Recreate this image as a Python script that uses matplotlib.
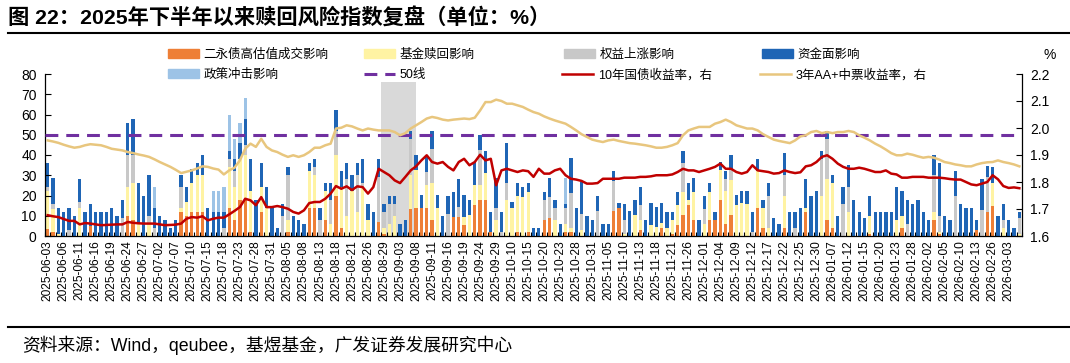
import numpy as np
import matplotlib
matplotlib.use("Agg")
import matplotlib.pyplot as plt
from matplotlib.patches import Patch
from matplotlib.lines import Line2D

plt.rcParams['font.family'] = ['Liberation Sans', 'Noto Sans CJK SC']
plt.rcParams['axes.unicode_minus'] = False

tick_labels = [
    "2025-06-03", "2025-06-06", "2025-06-11", "2025-06-16", "2025-06-19", "2025-06-24", "2025-06-27",
    "2025-07-02", "2025-07-07", "2025-07-10", "2025-07-15", "2025-07-18", "2025-07-23", "2025-07-28",
    "2025-07-31", "2025-08-05", "2025-08-08", "2025-08-13", "2025-08-18", "2025-08-21", "2025-08-26",
    "2025-08-29", "2025-09-03", "2025-09-08", "2025-09-11", "2025-09-16", "2025-09-19", "2025-09-24",
    "2025-09-29", "2025-10-10", "2025-10-15", "2025-10-20", "2025-10-23", "2025-10-28", "2025-10-31",
    "2025-11-05", "2025-11-10", "2025-11-13", "2025-11-18", "2025-11-21", "2025-11-26", "2025-12-01",
    "2025-12-04", "2025-12-09", "2025-12-12", "2025-12-17", "2025-12-22", "2025-12-25", "2025-12-30",
    "2026-01-07", "2026-01-12", "2026-01-15", "2026-01-20", "2026-01-23", "2026-01-28", "2026-02-02",
    "2026-02-05", "2026-02-10", "2026-02-13", "2026-02-26", "2026-03-03",
]

# 二永债高估值成交影响
orange = [3.5, 2, 0, 0, 0, 0, 0, 0, 5, 0, 0, 0, 0, 0, 0, 10, 8, 0, 0, 0,
          0, 0, 0, 0, 0, 12, 10, 12, 12, 12, 0, 0, 0, 0, 14, 8, 18, 18, 2, 0,
          12, 0, 0, 0, 0, 2, 0, 0, 0, 14, 14, 0, 8, 0, 20, 4, 0, 0, 0, 0,
          0, 0, 7, 1, 0, 0, 0, 0, 13.5, 13.8, 13.7, 13.7, 8, 0, 0, 0, 9.6, 9.6, 5.4, 0,
          15.3, 17.8, 17.8, 2, 0, 0, 0, 0, 2, 0, 2, 0, 0, 7.9, 8.7, 0, 0, 2, 2, 0,
          0, 0, 0, 0, 0, 0, 12.5, 13.7, 0, 0, 0, 3, 0, 0, 0, 3.8, 0, 1, 5.4, 10.4,
          15.3, 7.9, 0, 0, 7.9, 7.9, 17.8, 6, 10.4, 0, 0, 0, 0, 14, 4, 0, 0, 0, 4, 0,
          0, 0, 12, 0, 0, 0, 8, 4, 0, 0, 0, 0, 0, 0, 1, 0, 0, 0, 0, 0,
          4, 0, 0, 0, 0, 0, 8, 1, 0, 0, 0, 0, 0, 0, 3, 0, 12, 15, 0, 0,
          0, 0, 0]
# 基金赎回影响
yellow = [18.5, 11.5, 1, 0, 0, 0, 14, 0, 0, 0, 0, 0, 0, 0, 0, 14, 18, 6, 0, 6,
          0, 0, 0, 0, 0, 2, 7, 14, 18, 18, 0, 0, 0, 0, 20, 16, 20, 22, 20, 0,
          12, 14, 0, 0, 0, 6, 0, 0, 0, 18, 16, 0, 14, 6, 20, 20, 10, 22, 12, 24,
          8, 0, 0, 3, 6, 10, 0, 0, 16.5, 18.8, 0, 11.5, 18, 13.7, 0, 0, 0, 0, 4.2, 10.4,
          10, 7.4, 13.2, 0, 8, 0, 17.8, 13.7, 18, 19.4, 19.5, 0, 0, 0, 0, 7.9, 0, 4, 2, 0,
          3, 0, 0, 0, 0, 0, 0, 0, 1, 0, 10.4, 4.9, 0, 5.4, 4.6, 2.5, 3.8, 7, 9.9, 11.5,
          2.5, 14, 0, 6, 14, 0, 14.8, 16, 17.3, 15.3, 16.1, 16, 0, 18, 10, 4, 0, 0, 16, 0,
          0, 0, 2, 0, 0, 20, 20, 22, 0, 0, 12, 0, 0, 0, 9, 0, 0, 0, 0, 8,
          6, 0, 0, 0, 0, 0, 4, 1, 0, 0, 0, 0, 0, 0, 0, 0, 0, 11, 0, 4,
          0, 0, 1]
# 权益上涨影响
gray = [2, 2.5, 0, 0, 3, 0, 3, 0, 0, 0, 0, 0, 0, 0, 9, 16, 14, 0, 0, 4,
        4, 0, 0, 0, 0, 10, 0, 0, 0, 0, 0, 0, 0, 4, 4, 8, 0, 5, 0, 0,
        0, 0, 0, 0, 10, 22, 0, 0, 0, 0, 4, 8, 0, 12, 12, 0, 18, 0, 18, 2,
        0, 0, 22, 8, 10, 6, 0, 0, 18, 0, 0, 6.6, 17, 0, 0, 11, 0, 4.9, 0, 0,
        0, 17.3, 0, 0, 6, 2, 8.2, 0, 0, 0, 0, 0, 0, 9.8, 10.7, 5.7, 0, 8, 17, 0,
        8, 0, 0, 12.5, 0, 0, 14.5, 0, 7, 0, 0, 7.4, 0, 0, 0, 0, 0, 0, 0, 14,
        0, 0, 0, 7.4, 0, 0, 0, 6, 4.9, 0, 0, 0, 2, 0, 0, 16, 0, 0, 10, 0,
        4, 0, 0, 0, 0, 18, 20, 0, 0, 16, 12, 0, 0, 0, 0, 0, 0, 0, 0, 0,
        0, 6, 0, 0, 0, 0, 18, 8, 0, 0, 20, 0, 0, 0, 0, 13, 17, 0, 0, 4,
        0, 0, 8]
# 资金面影响
blue = [12, 12.5, 13, 12, 11, 10, 11, 12, 11, 12, 12, 12, 14, 10, 9, 16, 18, 20, 20, 20,
        10, 10, 8, 4, 8, 6, 7, 7, 6, 10, 14, 12, 12, 8, 4, 6, 8, 13, 16, 18,
        12, 10, 14, 4, 6, 4, 10, 8, 6, 4, 4, 6, 4, 8, 10, 8, 8, 8, 6, 12,
        8, 12, 9, 4, 4, 4, 6, 8, 4, 7.4, 6.6, 7.4, 9, 6.6, 10, 9, 12.3, 13.5, 10.7, 7.4,
        11.4, 7.5, 11.2, 10, 14.5, 10, 20, 2.9, 6, 5, 4.5, 4, 4, 4.1, 9.1, 4.3, 6, 2, 17.5, 14,
        15.5, 10, 8, 7.5, 6, 6, 5, 2.5, 8, 12.5, 7.4, 8.7, 8, 10.7, 9.6, 9.8, 8.2, 4, 6.6, 6.3,
        8.6, 6.6, 8, 6.6, 4.5, 4.1, 3.8, 4, 7.6, 5, 6.1, 6, 10, 6, 4, 6, 9, 6, 11, 12,
        8, 14, 14, 20, 22, 4, 4, 4, 10, 8, 11, 18, 12, 9, 10, 12, 12, 12, 12, 16,
        12, 12, 16, 18, 12, 8, 10, 26, 10, 8, 12, 16, 14, 14, 5, 15, 5.5, 8, 10, 8,
        8, 4, 3]
# 政策冲击影响
lightblue = [0] * 20 + [10] + [0] * 10 + [10, 10, 12, 18, 10, 10, 10] + [0] * 59 + [12.5] + [0] * 85

# 10年国债收益率（右轴）
cgb10 = [1.677, 1.673, 1.670, 1.663, 1.656, 1.656, 1.643, 1.648, 1.646, 1.643,
         1.640, 1.641, 1.642, 1.643, 1.643, 1.652, 1.649, 1.647, 1.646, 1.646,
         1.646, 1.643, 1.640, 1.641, 1.642, 1.646, 1.664, 1.670, 1.668, 1.673,
         1.658, 1.664, 1.668, 1.668, 1.680, 1.693, 1.707, 1.738, 1.732, 1.714,
         1.744, 1.707, 1.707, 1.711, 1.707, 1.701, 1.689, 1.683, 1.695, 1.722,
         1.726, 1.726, 1.738, 1.757, 1.785, 1.775, 1.784, 1.770, 1.784, 1.781,
         1.757, 1.781, 1.849, 1.837, 1.825, 1.806, 1.796, 1.819, 1.843, 1.858,
         1.880, 1.899, 1.874, 1.868, 1.874, 1.856, 1.843, 1.874, 1.886, 1.862,
         1.874, 1.901, 1.880, 1.886, 1.788, 1.843, 1.849, 1.843, 1.837, 1.843,
         1.840, 1.819, 1.849, 1.831, 1.831, 1.843, 1.849, 1.825, 1.812, 1.809,
         1.804, 1.794, 1.794, 1.796, 1.812, 1.812, 1.812, 1.812, 1.816, 1.816,
         1.816, 1.819, 1.819, 1.821, 1.825, 1.825, 1.825, 1.828, 1.837, 1.849,
         1.843, 1.843, 1.837, 1.843, 1.849, 1.856, 1.868, 1.849, 1.849, 1.837,
         1.831, 1.837, 1.862, 1.843, 1.840, 1.837, 1.831, 1.833, 1.843, 1.837,
         1.833, 1.836, 1.858, 1.862, 1.874, 1.893, 1.899, 1.886, 1.868, 1.856,
         1.849, 1.849, 1.853, 1.849, 1.843, 1.837, 1.837, 1.843, 1.831, 1.828,
         1.816, 1.816, 1.819, 1.819, 1.819, 1.816, 1.816, 1.816, 1.814, 1.811,
         1.809, 1.809, 1.800, 1.791, 1.788, 1.794, 1.800, 1.825, 1.810, 1.785,
         1.778, 1.780, 1.777]
# 3年AA+中票收益率（右轴）
mtn3 = [1.954, 1.950, 1.945, 1.938, 1.932, 1.927, 1.930, 1.936, 1.940, 1.938,
        1.936, 1.930, 1.923, 1.920, 1.917, 1.911, 1.907, 1.902, 1.898, 1.893,
        1.884, 1.874, 1.865, 1.856, 1.845, 1.833, 1.838, 1.843, 1.850, 1.858,
        1.856, 1.850, 1.846, 1.828, 1.843, 1.853, 1.880, 1.923, 1.942, 1.930,
        1.960, 1.930, 1.917, 1.911, 1.901, 1.893, 1.899, 1.893, 1.899, 1.911,
        1.927, 1.927, 1.936, 1.942, 1.998, 2.001, 2.010, 2.006, 1.998, 1.991,
        1.998, 1.994, 1.991, 1.991, 1.991, 1.985, 1.973, 1.981, 1.998, 2.010,
        2.022, 2.035, 2.041, 2.037, 2.031, 2.028, 2.031, 2.033, 2.035, 2.033,
        2.038, 2.065, 2.096, 2.096, 2.105, 2.100, 2.090, 2.090, 2.084, 2.078,
        2.068, 2.059, 2.053, 2.043, 2.035, 2.028, 2.022, 2.016, 2.004, 1.991,
        1.977, 1.967, 1.957, 1.952, 1.948, 1.954, 1.957, 1.952, 1.948, 1.944,
        1.942, 1.939, 1.936, 1.932, 1.927, 1.927, 1.930, 1.936, 1.944, 1.973,
        1.991, 1.998, 2.004, 2.004, 2.004, 2.016, 2.022, 2.031, 2.022, 2.010,
        2.004, 1.998, 1.998, 1.991, 1.977, 1.967, 1.957, 1.952, 1.948, 1.944,
        1.954, 1.969, 1.973, 1.985, 1.989, 1.981, 1.985, 1.981, 1.985, 1.985,
        1.989, 1.985, 1.973, 1.964, 1.954, 1.942, 1.932, 1.920, 1.907, 1.899,
        1.899, 1.905, 1.901, 1.895, 1.890, 1.893, 1.890, 1.883, 1.874, 1.870,
        1.865, 1.862, 1.858, 1.858, 1.865, 1.870, 1.873, 1.874, 1.880, 1.874,
        1.870, 1.865, 1.858]

line50 = 50
shade_start, shade_end = 63, 69  # 2025-08-29 ~ 2025-09-08 (bar index)

C_OR = '#EE7F36'
C_YE = '#FFF3A3'
C_GR = '#C8C8C8'
C_BL = '#1F65B5'
C_LB = '#9DC3E6'
C_PU = '#7030A0'
C_RD = '#C00000'
C_TN = '#E8C67E'

N = len(blue)
x = np.arange(N)

fig = plt.figure(figsize=(10.7, 3.63), dpi=100)
W, H = 1070, 363
ax = fig.add_axes([45 / W, 1 - 236 / H, (1022 - 45) / W, (236 - 74) / H])

ax.axvspan(shade_start - 0.5, shade_end, ymin=0, ymax=76 / 80, color='#D9D9D9', lw=0, zorder=0.5)

bw = 0.62
bottom = np.zeros(N)
series = [(orange, C_OR), (yellow, C_YE), (gray, C_GR), (blue, C_BL), (lightblue, C_LB)]
for vals, col in series:
    v = np.array(vals, dtype=float)
    ax.bar(x, v, bw, bottom=bottom, color=col, lw=0, zorder=1)
    bottom += v

ax.axhline(line50, color=C_PU, lw=2.2, ls=(0, (4.2, 2.6)), zorder=3)

ax.set_xlim(-0.5, N - 0.5)
ax.set_ylim(0, 80)
ax.set_yticks(np.arange(0, 81, 10))
ax.set_xticks(np.arange(N + 1) - 0.5)
ax.set_xticklabels([])
ax.set_xticks(np.arange(0, N, 3)[:len(tick_labels)], minor=True)
ax.set_xticklabels(tick_labels, minor=True, rotation=90, fontsize=8.6)
ax.tick_params(axis='x', which='major', direction='in', length=3, width=0.8)
ax.tick_params(axis='x', which='minor', length=0, pad=3)
ax.tick_params(axis='y', direction='in', length=4, width=0.8, labelsize=10, pad=6)
for s in ['top', 'right']:
    ax.spines[s].set_visible(False)
for s in ['left', 'bottom']:
    ax.spines[s].set_linewidth(0.9)

ax2 = ax.twinx()
ax2.plot(x, mtn3, color=C_TN, lw=1.8, zorder=3)
ax2.plot(x, cgb10, color=C_RD, lw=1.8, zorder=4)
ax2.set_ylim(1.6, 2.2)
ax2.set_yticks(np.round(np.arange(1.6, 2.21, 0.1), 1))
ax2.set_yticklabels([f"{v:.1f}" for v in np.arange(1.6, 2.21, 0.1)])
ax2.tick_params(axis='y', direction='in', length=4, width=0.8, labelsize=10, pad=6)
for s in ['top', 'left', 'bottom']:
    ax2.spines[s].set_visible(False)
ax2.spines['right'].set_linewidth(0.9)
ax2.set_xlim(-0.5, N - 0.5)

# legend (manual placement, 2 rows x 4 columns)
entries = [
    (Patch(color=C_OR), '二永债高估值成交影响', 168, 55),
    (Patch(color=C_YE), '基金赎回影响', 364, 55),
    (Patch(color=C_GR), '权益上涨影响', 564, 55),
    (Patch(color=C_BL), '资金面影响', 762, 55),
    (Patch(color=C_LB), '政策冲击影响', 168, 75),
    (Line2D([], [], color=C_PU, lw=2.2, ls=(0, (4.2, 2.6))), '50线', 364, 75),
    (Line2D([], [], color=C_RD, lw=1.8), '10年国债收益率，右', 562, 75),
    (Line2D([], [], color=C_TN, lw=1.8), '3年AA+中票收益率，右', 760, 75),
]
for h, lab, px, py in entries:
    fig.legend([h], [lab], loc='center left', bbox_to_anchor=(px / W, 1 - py / H),
               frameon=False, fontsize=9, handlelength=2.5, handleheight=0.7,
               handletextpad=0.35, borderpad=0, borderaxespad=0)

fig.text(1050 / W, 1 - 55 / H, '%', fontsize=10, ha='center', va='center')

fig.text(8 / W, 1 - 18 / H, '图 22：2025年下半年以来赎回风险指数复盘（单位：%）',
         fontsize=15.3, fontweight='bold', ha='left', va='center')
fig.add_artist(Line2D([8 / W, 1.0], [1 - 33 / H, 1 - 33 / H], color='black', lw=1.5))
fig.add_artist(Line2D([8 / W, 1.0], [1 - 327 / H, 1 - 327 / H], color='black', lw=1.5))
fig.text(22 / W, 1 - 345 / H, '资料来源：Wind，qeubee，基煜基金，广发证券发展研究中心',
         fontsize=12.8, ha='left', va='center')

fig.savefig('out.png', dpi=100)
